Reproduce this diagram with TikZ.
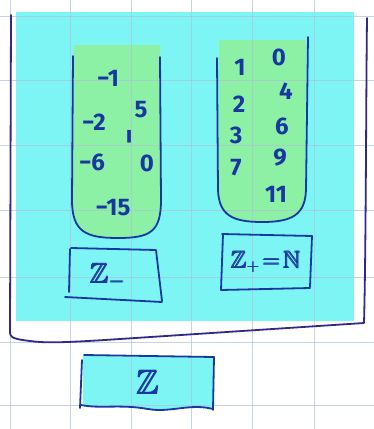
\documentclass[tikz,border=0pt]{standalone}
\usepackage{amsmath}
\usepackage{amssymb}
\usepackage{fontspec}
\setmainfont{Fira Sans}
\definecolor{ink}{RGB}{25,55,160}
\definecolor{frameink}{RGB}{50,40,140}
\definecolor{cyanfill}{RGB}{125,245,245}
\definecolor{greenfill}{RGB}{140,240,165}
\definecolor{gridc}{RGB}{175,195,215}
\begin{document}
\begin{tikzpicture}[x=1pt,y=-1pt,
  gridline/.style={draw=gridc,line width=0.7pt,opacity=0.7},
  pen/.style={draw=ink,line width=1.8pt,line cap=round,line join=round},
  framepen/.style={draw=frameink,line width=1.8pt,line cap=round,line join=round},
  digit/.style={text=ink,font=\fontsize{24}{24}\selectfont\bfseries,inner sep=0pt},
  lab/.style={text=ink,inner sep=0pt}]
\useasboundingbox (0,0) rectangle (374,429);
\fill[white] (0,0) rectangle (374,429);
% fills
\fill[cyanfill] (16,12) rectangle (354,321);
\fill[greenfill] (74,45) -- (160,45) -- (160,200) .. controls (159,232) and (148,237) .. (118,237) .. controls (86,237) and (73,232) .. (73,200) -- cycle;
\fill[greenfill] (219,40) -- (306,40) -- (305,190) .. controls (304,215) and (292,221) .. (262,221) .. controls (232,221) and (219,214) .. (219,190) -- cycle;
\fill[cyanfill] (83,356) -- (214,357) -- (213,409) .. controls (190,403) and (170,413) .. (148,409) .. controls (120,404) and (100,409) .. (83,405) -- cycle;
% grid
\foreach \x in {10,70,131,191,252,314} \draw[gridline] (\x,0) -- (\x,429);
\foreach \y in {16,80,145,210,277,342,405} \draw[gridline] (0,\y) -- (374,\y);
% outer frame
\draw[framepen] (11,15) -- (10,330) .. controls (9,338) and (14,339) .. (30,341) .. controls (45,343) and (60,343) .. (120,339) -- (364,323) .. controls (366,250) and (366,100) .. (367,18);
% brackets
\draw[pen] (73,56) -- (72,200) .. controls (72,232) and (86,238) .. (118,238) .. controls (150,238) and (161,232) .. (161,200) -- (160,57);
\draw[pen] (217,58) -- (218,190) .. controls (219,215) and (232,222) .. (262,222) .. controls (292,222) and (305,215) .. (306,190) -- (308,37);
% boxes
\draw[pen] (70,249) -- (69,292);
\draw[pen] (71,248) -- (156,250) -- (162,301);
\draw[pen] (65,297) -- (162,302);
\draw[pen] (222,234) -- (312,236) -- (310,287);
\draw[pen] (223,234) -- (221,290) -- (310,288);
\draw[pen] (84,355) -- (214,357) -- (213,410);
\draw[pen] (82,360) -- (80,408);
\draw[pen] (81,405) .. controls (100,409) and (120,404) .. (148,409) .. controls (170,413) and (190,403) .. (213,409);
% left set
\node[digit] (m1) at (108,78) {−1};
\node[digit] (m2) at (94,122) {−2};
\node[digit] (m5) at (141,110) {5};
\node[digit,rotate=90,font=\fontsize{30}{30}\selectfont\bfseries] (m5b) at (134,137) {−};
\node[digit] (m6) at (92,162) {−6};
\node[digit] (z0) at (147,163) {0};
\node[digit] (m15) at (113,208) {−15};
% right set
\node[digit] (p1) at (240,67) {1};
\node[digit] (p0) at (279,57) {0};
\node[digit] (p2) at (239,104) {2};
\node[digit] (p4) at (286,91) {4};
\node[digit] (p3) at (236,135) {3};
\node[digit] (p6) at (282,126) {6};
\node[digit] (p7) at (236,168) {7};
\node[digit] (p9) at (280,158) {9};
\node[digit] (p11) at (276,194) {11};
% labels
\node[lab,font=\fontsize{28}{28}\selectfont] (zm) at (108,276) {$\pmb{\mathbb{Z}}_{\pmb{-}}$};
\node[lab,font=\fontsize{24}{24}\selectfont] (zp) at (266,262) {$\pmb{\mathbb{Z}}_{\pmb{+}}\!\pmb{=}\!\pmb{\mathbb{N}}$};
\node[lab,font=\fontsize{34}{34}\selectfont] (z) at (148,382) {$\pmb{\mathbb{Z}}$};
\end{tikzpicture}
\end{document}
